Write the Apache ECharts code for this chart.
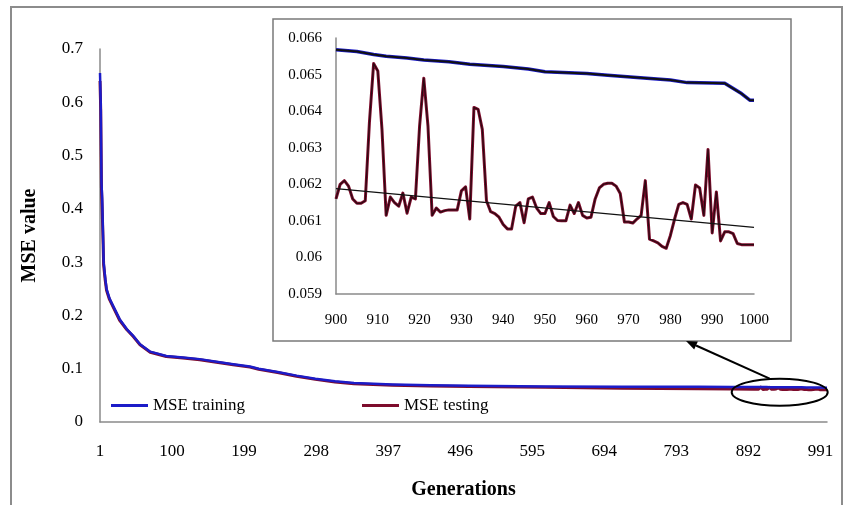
<!DOCTYPE html>
<html>
<head>
<meta charset="utf-8">
<script src="https://cdn.jsdelivr.net/npm/echarts@6/dist/echarts.min.js"></script>
<style>
  html, body { margin: 0; padding: 0; background: #fff; }
  #chart { width: 845px; height: 505px; }
</style>
</head>
<body>
<div id="chart"></div>
<script>
// Generations on the main category axis (1 .. 1000)
const generations = Array.from({ length: 1000 }, (_, i) => String(i + 1));

// MSE of the training set, generations 1 .. 870
const trainGen = [1, 2, 3, 4, 5, 6, 8, 10, 14, 19, 28, 38, 47, 56, 70, 92, 115, 138, 161, 184, 207, 219, 245, 271, 297, 324, 350, 403, 455, 508, 613, 718, 823, 870];
const trainMSE = [0.655, 0.600, 0.450, 0.420, 0.360, 0.300, 0.272, 0.250, 0.232, 0.218, 0.193, 0.174, 0.161, 0.146, 0.132, 0.124, 0.121, 0.118, 0.113, 0.1085, 0.104, 0.100, 0.094, 0.087, 0.081, 0.0765, 0.073, 0.0705, 0.069, 0.0678, 0.0668, 0.0663, 0.0660, 0.0658];

// MSE of the testing set, generations 1 .. 870
const testGen = [1, 2, 3, 4, 5, 6, 8, 10, 14, 19, 28, 38, 47, 56, 70, 92, 115, 138, 161, 184, 207, 219, 245, 271, 297, 324, 350, 403, 455, 508, 613, 718, 823, 870];
const testMSE = [0.640, 0.585, 0.440, 0.400, 0.350, 0.295, 0.268, 0.247, 0.230, 0.216, 0.191, 0.173, 0.160, 0.145, 0.131, 0.123, 0.120, 0.117, 0.112, 0.1075, 0.103, 0.099, 0.093, 0.086, 0.080, 0.075, 0.072, 0.069, 0.0675, 0.0665, 0.0650, 0.0635, 0.0625, 0.0620];

// Last hundred generations in detail
const zoomTrainGen = [900, 905, 909, 912, 917, 921, 927, 932, 940, 946, 950, 960, 965, 972, 980, 984, 993, 997, 999, 1000];
const zoomTrainMSE = [0.06568, 0.06563, 0.06555, 0.06550, 0.06545, 0.06540, 0.06535, 0.06528, 0.06522, 0.06515, 0.06508, 0.06503, 0.06498, 0.06492, 0.06485, 0.06478, 0.06476, 0.06448, 0.06430, 0.06430];

// Testing MSE for every generation from 900 to 1000
const zoomTestStart = 900;
const zoomTestMSE = [
  0.06160, 0.06200, 0.06210, 0.06195, 0.06160, 0.06148, 0.06148, 0.06155, 0.06370, 0.06530,
  0.06510, 0.06350, 0.06115, 0.06165, 0.06150, 0.06140, 0.06176, 0.06121, 0.06165, 0.06160,
  0.06360, 0.06490, 0.06360, 0.06115, 0.06135, 0.06124, 0.06128, 0.06130, 0.06130, 0.06130,
  0.06182, 0.06193, 0.06105, 0.06410, 0.06405, 0.06350, 0.06155, 0.06125, 0.06120, 0.06110,
  0.06090, 0.06078, 0.06078, 0.06140, 0.06150, 0.06095, 0.06160, 0.06165, 0.06135, 0.06120,
  0.06120, 0.06150, 0.06112, 0.06101, 0.06100, 0.06100, 0.06143, 0.06120, 0.06150, 0.06115,
  0.06108, 0.06110, 0.06160, 0.06190, 0.06200, 0.06203, 0.06203, 0.06195, 0.06175, 0.06097,
  0.06097, 0.06094, 0.06105, 0.06115, 0.06210, 0.06050, 0.06045, 0.06040, 0.06030, 0.06025,
  0.06060, 0.06105, 0.06145, 0.06150, 0.06145, 0.06105, 0.06198, 0.06190, 0.06115, 0.06295,
  0.06067, 0.06179, 0.06045, 0.06070, 0.06070, 0.06065, 0.06038, 0.06035, 0.06035, 0.06035,
  0.06035
];

// Linear trend of the testing MSE over the last hundred generations
const trendGen = [900, 1000];
const trendMSE = [0.06188, 0.06082];

const mainYTicks = { min: 0, max: 0.7, interval: 0.1 };
const zoomYTicks = { min: 0.059, max: 0.066, interval: 0.001 };
const zoomXTicks = { min: 900, max: 1000, interval: 10 };

const SERIF = "'Liberation Serif', 'Times New Roman', serif";
const BLUE = '#1c1cc8';
const MAROON = '#7d0c2c';
const AXIS_GREY = '#8a8a8a';

const pairs = (xs, ys) => xs.map((x, i) => [x, ys[i]]);
const zoomTestPairs = zoomTestMSE.map((v, i) => [zoomTestStart + i, v]);
const zoomTrainPairs = pairs(zoomTrainGen, zoomTrainMSE);

// Main-axis data uses category indices (generation - 1)
const toIdx = arr => arr.map(([g, v]) => [g - 1, v]);
const mainTrain = toIdx(pairs(trainGen, trainMSE).concat(zoomTrainPairs));
const mainTest = toIdx(pairs(testGen, testMSE).concat(zoomTestPairs));

const chart = echarts.init(document.getElementById('chart'), null, { renderer: 'canvas' });

const lineSeries = (name, data, color, width, xi, z) => ({
  name, type: 'line', data, xAxisIndex: xi, yAxisIndex: xi,
  showSymbol: false, symbol: 'none', z: z,
  lineStyle: { color, width, join: 'round' }, itemStyle: { color },
  emphasis: { disabled: true }
});

chart.setOption({
  animation: false,
  backgroundColor: '#fff',
  textStyle: { fontFamily: SERIF, color: '#000' },
  grid: [
    { left: 100, right: 18, top: 49, bottom: 82 },
    { left: 336, right: 91, top: 38, bottom: 211 }
  ],
  xAxis: [
    {
      type: 'category', gridIndex: 0, data: generations, boundaryGap: false,
      axisLine: { lineStyle: { color: AXIS_GREY, width: 1.5 } },
      axisTick: { show: false },
      axisLabel: { interval: 98, margin: 21, fontSize: 17, fontFamily: SERIF, color: '#000' },
      splitLine: { show: false },
      name: 'Generations', nameLocation: 'middle', nameGap: 58,
      nameTextStyle: { fontSize: 20, fontWeight: 'bold', fontFamily: SERIF, color: '#000' }
    },
    {
      type: 'value', gridIndex: 1, min: zoomXTicks.min, max: zoomXTicks.max, interval: zoomXTicks.interval,
      axisLine: { onZero: false, lineStyle: { color: AXIS_GREY, width: 1.5 } },
      axisTick: { show: false },
      axisLabel: { margin: 19, fontSize: 15, fontFamily: SERIF, color: '#000', formatter: v => String(v) },
      splitLine: { show: false }
    }
  ],
  yAxis: [
    {
      type: 'value', gridIndex: 0, min: mainYTicks.min, max: mainYTicks.max, interval: mainYTicks.interval,
      axisLine: { show: true, lineStyle: { color: AXIS_GREY, width: 1.5 } },
      axisTick: { show: false },
      axisLabel: { margin: 17, fontSize: 17, fontFamily: SERIF, color: '#000' },
      splitLine: { show: false },
      name: 'MSE value', nameLocation: 'middle', nameGap: 60, nameRotate: 90,
      nameTextStyle: { fontSize: 20, fontWeight: 'bold', fontFamily: SERIF, color: '#000' }
    },
    {
      type: 'value', gridIndex: 1, min: zoomYTicks.min, max: zoomYTicks.max, interval: zoomYTicks.interval,
      axisLine: { show: true, onZero: false, lineStyle: { color: AXIS_GREY, width: 1.5 } },
      axisTick: { show: false },
      axisLabel: { margin: 14, fontSize: 15, fontFamily: SERIF, color: '#000' },
      splitLine: { show: false }
    }
  ],
  legend: [
    {
      data: ['MSE training'], left: 111, top: 397, padding: 0,
      icon: 'rect', itemWidth: 37, itemHeight: 3,
      textStyle: { fontSize: 17, fontFamily: SERIF, color: '#000' }
    },
    {
      data: ['MSE testing'], left: 362, top: 397, padding: 0,
      icon: 'rect', itemWidth: 37, itemHeight: 3,
      textStyle: { fontSize: 17, fontFamily: SERIF, color: '#000' }
    }
  ],
  series: [
    lineSeries('MSE testing', mainTest, MAROON, 3, 0, 2),
    lineSeries('MSE training', mainTrain, BLUE, 2.5, 0, 3),
    // detail view of the last hundred generations
    lineSeries('zoomTrain', zoomTrainPairs, BLUE, 3.5, 1, 4),
    lineSeries('zoomTrainCore', zoomTrainPairs, '#111', 2, 1, 5),
    lineSeries('zoomTest', zoomTestPairs, MAROON, 3, 1, 4),
    lineSeries('zoomTestCore', zoomTestPairs, '#2a0a12', 1.2, 1, 5),
    lineSeries('zoomTrend', pairs(trendGen, trendMSE), '#111', 1.3, 1, 6)
  ]
});

// Frame, detail-view border, and the ellipse + arrow pointing from the tail to the detail view
const tailCenter = chart.convertToPixel({ xAxisIndex: 0, yAxisIndex: 0 }, [934, 0.056]);
const ellipseRx = 48, ellipseRy = 13.5;
const arrowTail = [tailCenter[0] - 10, tailCenter[1] - ellipseRy];
const arrowTip = [686, 341];
const ang = Math.atan2(arrowTip[1] - arrowTail[1], arrowTip[0] - arrowTail[0]);
const headLen = 11, headHalf = 4.5;
const hb = [arrowTip[0] - headLen * Math.cos(ang), arrowTip[1] - headLen * Math.sin(ang)];
const head = [
  arrowTip,
  [hb[0] + headHalf * Math.sin(ang), hb[1] - headHalf * Math.cos(ang)],
  [hb[0] - headHalf * Math.sin(ang), hb[1] + headHalf * Math.cos(ang)]
];

chart.setOption({
  graphic: [
    { type: 'rect', silent: true, z: 0, shape: { x: 11, y: 7, width: 831, height: 530 },
      style: { fill: 'none', stroke: '#8c8c8c', lineWidth: 2 } },
    { type: 'rect', silent: true, z: 0, shape: { x: 273, y: 19, width: 518, height: 322 },
      style: { fill: 'none', stroke: '#7a7a7a', lineWidth: 1.5 } },
    { type: 'ellipse', silent: true, z: 10,
      shape: { cx: tailCenter[0], cy: tailCenter[1], rx: ellipseRx, ry: ellipseRy },
      style: { fill: 'none', stroke: '#000', lineWidth: 2 } },
    { type: 'line', silent: true, z: 10,
      shape: { x1: arrowTail[0], y1: arrowTail[1], x2: hb[0], y2: hb[1] },
      style: { stroke: '#000', lineWidth: 2 } },
    { type: 'polygon', silent: true, z: 10, shape: { points: head },
      style: { fill: '#000' } }
  ]
});
</script>
</body>
</html>
